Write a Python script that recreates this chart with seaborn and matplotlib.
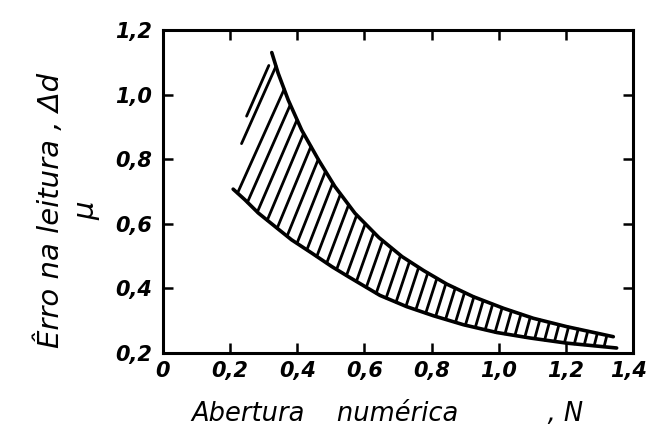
import numpy as np
import pandas as pd
import matplotlib
matplotlib.use("Agg")
import matplotlib.pyplot as plt
import matplotlib.transforms as mtransforms
import seaborn as sns

# ---- data ----
upper_x = [0.324, 0.343, 0.373, 0.413, 0.463, 0.512, 0.572, 0.643, 0.712, 0.776,
           0.845, 0.924, 1.014, 1.103, 1.203, 1.341]
upper_y = [1.130, 1.066, 0.983, 0.890, 0.798, 0.715, 0.632, 0.557, 0.498, 0.455,
           0.413, 0.374, 0.338, 0.307, 0.281, 0.250]
lower_x = [0.209, 0.244, 0.284, 0.334, 0.383, 0.443, 0.503, 0.552, 0.646, 0.726,
           0.805, 0.895, 0.994, 1.093, 1.203, 1.351]
lower_y = [0.707, 0.674, 0.633, 0.591, 0.550, 0.509, 0.467, 0.436, 0.378, 0.343,
           0.315, 0.287, 0.263, 0.246, 0.230, 0.215]
# left edge of the hatched band (hand-drawn, no line)
edge_x = [0.209, 0.252]
edge_y = [0.707, 0.950]

x_ticks = [0, 0.2, 0.4, 0.6, 0.8, 1.0, 1.2, 1.4]
x_labels = ["0", "0,2", "0,4", "0,6", "0,8", "1,0", "1,2", "1,4"]
y_ticks = [0.2, 0.4, 0.6, 0.8, 1.0, 1.2]
y_labels = ["0,2", "0,4", "0,6", "0,8", "1,0", "1,2"]

xlabel = "Abertura    numérica           , N"
ylabel = "Êrro na leitura , Δd\nμ"

# ---- figure ----
sns.set_theme(style="ticks")
plt.rcParams["font.family"] = ["DejaVu Sans"]
plt.rcParams["text.color"] = "black"
plt.rcParams["axes.labelcolor"] = "black"
fig = plt.figure(figsize=(6.48, 4.34), dpi=100)
ax = fig.add_axes([0.2515, 0.187, 0.7255, 0.744])
ax.set_xlim(0, 1.4)
ax.set_ylim(0.2, 1.2)

lw = 2.6
sns.lineplot(x=upper_x, y=upper_y, color="black", lw=lw, estimator=None, sort=False, ax=ax)
sns.lineplot(x=lower_x, y=lower_y, color="black", lw=lw, estimator=None, sort=False, ax=ax)

# ---- hatching, derived from the two curves ----
sx = 470 / 1.4   # px per x unit
sy = 323 / 1.0   # px per y unit
xu = np.linspace(upper_x[0], upper_x[-1], 3000)
yu = np.interp(xu, upper_x, upper_y)
y_cap = 1.09

starts = []
for t in [0.93, 0.58]:
    starts.append((edge_x[0] + t * (edge_x[1] - edge_x[0]),
                   edge_y[0] + t * (edge_y[1] - edge_y[0])))
for x0 in np.arange(0.222, 1.32, 0.0295):
    starts.append((x0, np.interp(x0, lower_x, lower_y)))

rows = []
for i, (x0, y0) in enumerate(starts):
    frac = (x0 - 0.2) / (1.35 - 0.2)
    k = 2.2 + frac * 1.9          # pixel slope, steeper to the right
    m = k * sx / sy
    x_capped = x0 + (y_cap - y0) / m
    if x_capped < upper_x[0]:
        x1, y1 = x_capped, y_cap
    else:
        yl = y0 + m * (xu - x0)
        ok = np.where((xu >= x0) & (yl >= yu))[0]
        if len(ok) == 0:
            continue
        j = ok[0]
        x1, y1 = xu[j], yu[j]
    rows.append((i, x0, y0))
    rows.append((i, x1, y1))
hatch = pd.DataFrame(rows, columns=["seg", "x", "y"])
sns.lineplot(data=hatch, x="x", y="y", units="seg", estimator=None, sort=False,
             color="black", lw=2.0, ax=ax)

# ---- axes styling ----
for s in ax.spines.values():
    s.set_linewidth(2.2)
    s.set_color("black")
ax.tick_params(direction="in", length=7, width=1.8, top=True, right=True,
               colors="black")
ax.tick_params(axis="x", pad=6)
ax.tick_params(axis="y", pad=8)
tick_font = dict(fontsize=15, fontstyle="italic", fontweight="bold")
ax.set_xticks(x_ticks)
ax.set_xticklabels(x_labels, **tick_font)
ax.set_yticks(y_ticks)
ax.set_yticklabels(y_labels, **tick_font)
# nudge the last x tick label slightly left so it stays inside the figure
last = ax.get_xticklabels()[-1]
last.set_transform(last.get_transform() +
                   mtransforms.ScaledTranslation(-5 / 100, 0, fig.dpi_scale_trans))

ax.set_xlabel(xlabel, fontsize=18.5, fontstyle="italic")
ax.xaxis.set_label_coords(0.478, -0.15)
ax.set_ylabel(ylabel, fontsize=21, fontstyle="italic", linespacing=1.3)
ax.yaxis.set_label_coords(-0.134, 0.44)

fig.savefig("out.png", dpi=100, facecolor="white")
